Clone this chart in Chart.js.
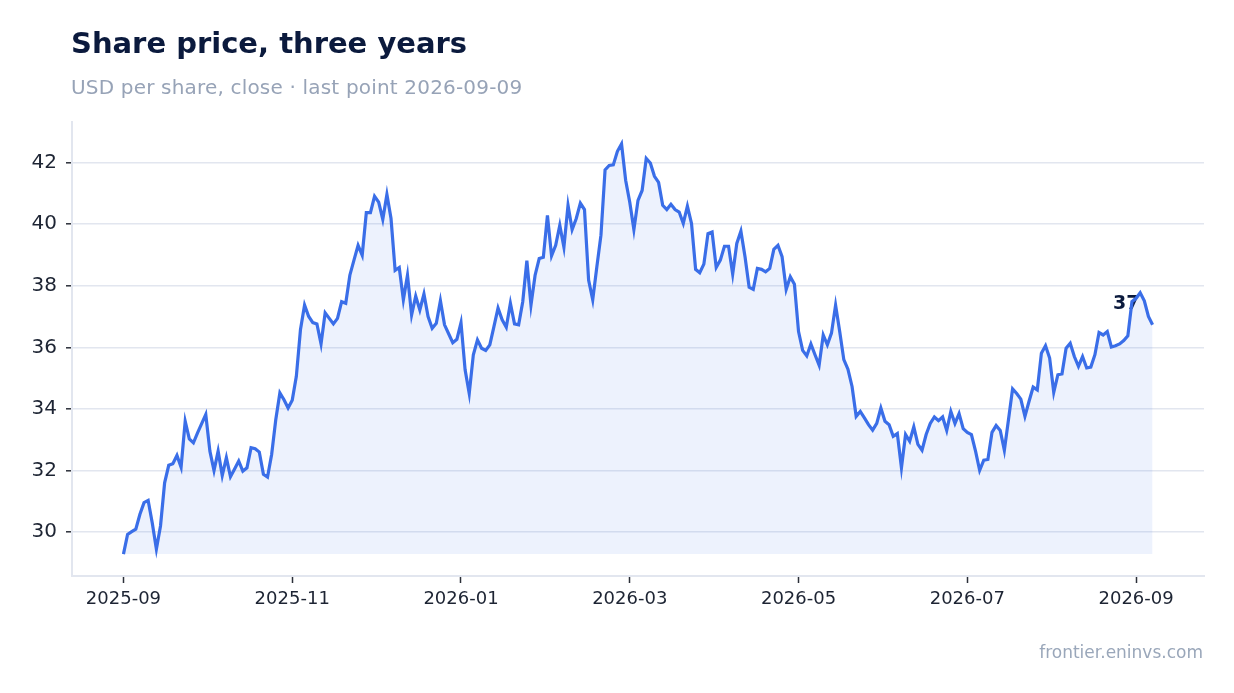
<!DOCTYPE html>
<html>
<head>
<meta charset="utf-8">
<title>Share price, three years</title>
<script src="https://cdn.jsdelivr.net/npm/chart.js@4.4.1/dist/chart.umd.min.js"></script>
<style>
  html, body { margin: 0; padding: 0; background: #ffffff; }
  #wrap { position: relative; width: 1234px; height: 693px; font-family: "DejaVu Sans", sans-serif; }
  #wrap canvas { position: absolute; left: 0; top: 0; }
  .txt { position: absolute; white-space: nowrap; line-height: normal; }
  #titulo { left: 71px; top: 26px; font-size: 29px; font-weight: bold; color: #0b1a3d; }
  #subtitulo { left: 71px; top: 75px; font-size: 20px; letter-spacing: 0.18px; color: #97a3b7; }
  #fuente { right: 31px; top: 642px; font-size: 17px; color: #9aa7ba; }
</style>
</head>
<body>
<div id="wrap">
  <canvas id="graficoPrecio" width="1234" height="693"></canvas>
  <div class="txt" id="titulo">Share price, three years</div>
  <div class="txt" id="subtitulo">USD per share, close · last point 2026-09-09</div>
  <div class="txt" id="fuente">frontier.eninvs.com</div>
</div>
<script>
// ==========================================================================
// DATOS (cierre diario)
// ==========================================================================
const prices = [
  29.29, 29.93, 30.02, 30.10, 30.58, 30.96, 31.03, 30.30, 29.45, 30.20,
  31.60, 32.17, 32.22, 32.49, 32.11, 33.60, 33.03, 32.90, 33.22, 33.52,
  33.82, 32.63, 32.00, 32.63, 31.84, 32.42, 31.80, 32.05, 32.31, 31.98,
  32.09, 32.74, 32.71, 32.60, 31.88, 31.79, 32.52, 33.65, 34.52, 34.30,
  34.03, 34.28, 35.06, 36.57, 37.37, 37.00, 36.80, 36.76, 36.11, 37.12,
  36.94, 36.76, 36.94, 37.48, 37.43, 38.34, 38.83, 39.31, 38.99, 40.37,
  40.37, 40.90, 40.71, 40.15, 40.96, 40.18, 38.50, 38.59, 37.54, 38.34,
  37.05, 37.66, 37.21, 37.73, 37.00, 36.62, 36.78, 37.51, 36.73, 36.44,
  36.15, 36.26, 36.80, 35.27, 34.50, 35.76, 36.24, 35.97, 35.90, 36.08,
  36.67, 37.27, 36.89, 36.65, 37.43, 36.76, 36.73, 37.48, 38.81, 37.37,
  38.34, 38.88, 38.92, 40.28, 38.97, 39.31, 39.96, 39.25, 40.61, 39.82,
  40.18, 40.68, 40.47, 38.18, 37.54, 38.61, 39.64, 41.76, 41.90, 41.92,
  42.36, 42.60, 41.42, 40.71, 39.82, 40.77, 41.09, 42.13, 41.98, 41.55,
  41.35, 40.61, 40.47, 40.64, 40.47, 40.39, 40.02, 40.58, 40.02, 38.53,
  38.42, 38.70, 39.69, 39.74, 38.59, 38.83, 39.28, 39.28, 38.38, 39.37,
  39.77, 38.94, 37.95, 37.88, 38.56, 38.53, 38.45, 38.56, 39.18, 39.31,
  38.94, 37.88, 38.29, 38.05, 36.51, 35.90, 35.72, 36.11, 35.76, 35.42,
  36.40, 36.08, 36.46, 37.37, 36.51, 35.60, 35.29, 34.73, 33.76, 33.92,
  33.71, 33.49, 33.31, 33.53, 34.03, 33.60, 33.49, 33.11, 33.20, 32.09,
  33.17, 32.95, 33.42, 32.85, 32.66, 33.17, 33.53, 33.74, 33.62, 33.74,
  33.30, 33.92, 33.53, 33.85, 33.36, 33.24, 33.17, 32.63, 32.01, 32.34,
  32.36, 33.24, 33.46, 33.30, 32.66, 33.65, 34.65, 34.50, 34.32, 33.76,
  34.25, 34.71, 34.62, 35.81, 36.05, 35.65, 34.54, 35.11, 35.14, 35.97,
  36.13, 35.70, 35.38, 35.70, 35.33, 35.36, 35.76, 36.48, 36.40, 36.51,
  36.01, 36.05, 36.11, 36.22, 36.37, 37.48, 37.59, 37.77, 37.51, 37.00,
  36.73
];

// etiquetas del eje X y el índice del punto al que corresponde cada una
const xTickLabels = ['2025-09', '2025-11', '2026-01', '2026-03', '2026-05', '2026-07', '2026-09'];
const xTickIndex = [0, 41, 82, 123, 164, 205, 246];

// marcas del eje Y
const yTicks = [30, 32, 34, 36, 38, 40, 42];

// ==========================================================================
// RANGOS (margen alrededor de los datos)
// ==========================================================================
const lo = Math.min(...prices);
const hi = Math.max(...prices);
const yPad = (hi - lo) * 0.0535;
const xPad = (prices.length - 1) * 0.05;

const colorLinea = '#3a6ee8';
const colorTexto = '#1d2433';
const colorGrid = '#e2e6ef';

Chart.defaults.font.family = '"DejaVu Sans", sans-serif';

// etiqueta del último valor, dibujada debajo de la línea
const etiquetaFinal = {
  id: 'etiquetaFinal',
  beforeDatasetsDraw(chart) {
    const meta = chart.getDatasetMeta(0);
    const pt = meta.data[meta.data.length - 1];
    const ctx = chart.ctx;
    ctx.save();
    ctx.font = 'bold 19px "DejaVu Sans", sans-serif';
    ctx.fillStyle = '#0b1a3d';
    ctx.textAlign = 'right';
    ctx.textBaseline = 'middle';
    ctx.fillText(String(Math.round(prices[prices.length - 1])), pt.x - 13, pt.y - 21);
    ctx.restore();
  }
};

const ctx = document.getElementById('graficoPrecio').getContext('2d');
new Chart(ctx, {
  type: 'line',
  data: {
    datasets: [{
      label: 'Close',
      data: prices.map((v, i) => ({ x: i, y: v })),
      borderColor: colorLinea,
      borderWidth: 3.2,
      backgroundColor: 'rgba(58, 110, 232, 0.09)',
      fill: { value: lo },
      pointRadius: 0,
      tension: 0
    }]
  },
  options: {
    responsive: false,
    animation: false,
    layout: { padding: { top: 122, right: 30, bottom: 57, left: 0 } },
    plugins: {
      legend: { display: false },
      title: { display: false },
      tooltip: { enabled: false }
    },
    scales: {
      x: {
        type: 'linear',
        min: -xPad,
        max: prices.length - 1 + xPad,
        afterBuildTicks: (scale) => { scale.ticks = xTickIndex.map(v => ({ value: v })); },
        afterFit: (scale) => { scale.height = 60; },
        ticks: {
          autoSkip: false,
          maxRotation: 0,
          padding: 6,
          color: colorTexto,
          font: { size: 18 },
          callback: (value, index) => xTickLabels[index]
        },
        grid: {
          drawOnChartArea: false,
          drawTicks: true,
          tickLength: 7,
          tickColor: '#2b2f38',
          tickWidth: 1.5
        },
        border: { color: colorGrid, width: 2 }
      },
      y: {
        min: lo - yPad,
        max: hi + yPad,
        afterBuildTicks: (scale) => { scale.ticks = yTicks.map(v => ({ value: v })); },
        afterFit: (scale) => { scale.width = 72; },
        ticks: {
          padding: 9,
          color: colorTexto,
          font: { size: 20 }
        },
        grid: {
          color: colorGrid,
          lineWidth: 1.6,
          drawTicks: true,
          tickLength: 6,
          tickColor: '#2b2f38',
          tickWidth: 1.5
        },
        border: { color: colorGrid, width: 2 }
      }
    }
  },
  plugins: [etiquetaFinal]
});
</script>
</body>
</html>
